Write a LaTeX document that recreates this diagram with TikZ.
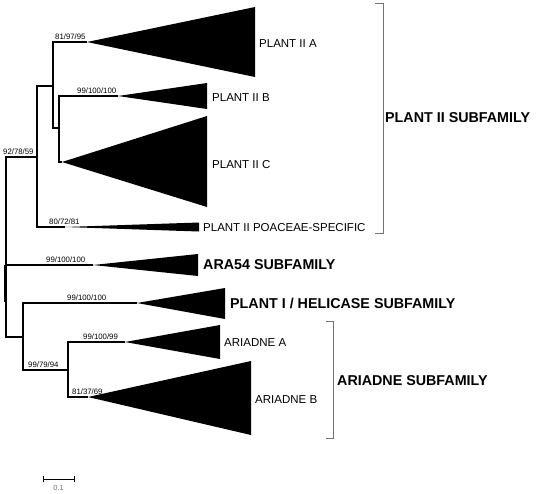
\documentclass[tikz,border=0pt]{standalone}
\usepackage{fontspec}
\setmainfont{Liberation Sans}
\begin{document}
\begin{tikzpicture}[x=1pt,y=-1pt,
  br/.style={line width=1.1pt, line join=miter},
  tri/.style={fill=black},
  boot/.style={anchor=south west, inner sep=0pt, font=\fontsize{7.8}{9}\selectfont},
  clade/.style={anchor=west, inner sep=0pt, font=\fontsize{11.5}{13}\selectfont},
  fam/.style={anchor=west, inner sep=0pt, font=\fontsize{14.3}{16}\selectfont\bfseries},
  brk/.style={line width=0.9pt, black!55},
]
\useasboundingbox (0,0) rectangle (537,493);
% tree coordinates
\coordinate (rootc) at (6,265);
\coordinate (nP2) at (37,157);
\coordinate (nAB) at (53,86);
\coordinate (nBC) at (59,128);
\coordinate (nR2) at (23,337);
\coordinate (nAr) at (68,370);
% clade tips
\coordinate (tA) at (87,42);
\coordinate (tB) at (118,96);
\coordinate (tC) at (62,162);
\coordinate (tPOA) at (65,227);
\coordinate (tARA) at (93,265);
\coordinate (tPI) at (137,303);
\coordinate (tAA) at (125,342);
\coordinate (tAB) at (88,397);
% branches
\draw[br] (nP2) -| (rootc) |- (nR2);
\draw[br] (rootc) -- (tARA);
\draw[line width=2.4pt] (5.6,265) -- (5.6,302);
\draw[br] (nAB) -| (nP2) |- (tPOA);
\draw[br] (tA) -| (nAB) |- (nBC);
\draw[br] (tB) -| (nBC) |- (tC);
\draw[br] (tPI) -| (nR2) |- (nAr);
\draw[br] (tAA) -| (nAr) |- (tAB);
% collapsed clades
\fill[tri] (tA) -- (255,7) -- (255,77) -- cycle;
\fill[tri] (tB) -- (207,83) -- (207,109) -- cycle;
\fill[tri] (tC) -- (207,116) -- (207,207) -- cycle;
\fill[tri] (tPOA) -- (199,222.5) -- (199,231.5) -- cycle;
\fill[tri] (tARA) -- (198,254) -- (198,276) -- cycle;
\fill[tri] (tPI) -- (225,288) -- (225,319) -- cycle;
\fill[tri] (tAA) -- (220,325) -- (220,359) -- cycle;
\fill[tri] (tAB) -- (251,361) -- (251,435) -- cycle;
% bootstrap values
\node[boot] (b1) at (55,40) {81/97/95};
\node[boot] (b2) at (77,94) {99/100/100};
\node[boot] (b3) at (3,155) {92/78/59};
\node[boot] (b4) at (49,225) {80/72/81};
\node[boot] (b5) at (46,263) {99/100/100};
\node[boot] (b6) at (67,301) {99/100/100};
\node[boot] (b7) at (83,340) {99/100/99};
\node[boot] (b8) at (28,368) {99/79/94};
\node[boot] (b9) at (72,395) {81/37/69};
% clade labels
\node[clade] (lA) at (259,44) {PLANT II A};
\node[clade] (lB) at (212,98) {PLANT II B};
\node[clade] (lC) at (212,165) {PLANT II C};
\node[clade] (lPOA) at (203,228) {PLANT II POACEAE-SPECIFIC};
\node[clade] (lAA) at (224,343) {ARIADNE A};
\node[clade] (lAB) at (255,400) {ARIADNE B};
\node[fam] (fP2) at (385,118) {PLANT II SUBFAMILY};
\node[fam] (fARA) at (203,265) {ARA54 SUBFAMILY};
\node[fam] (fPI) at (230,303) {PLANT I / HELICASE SUBFAMILY};
\node[fam] (fAr) at (337,381) {ARIADNE SUBFAMILY};
% brackets
\draw[brk] (375,3) -- (383,3) -- (383,233) -- (375,233);
\draw[brk] (326,321) -- (333,321) -- (333,438) -- (326,438);
% scale bar
\coordinate (s1) at (43,479);
\coordinate (s2) at (74,479);
\draw[line width=1pt] (s1) -- (s2);
\draw[line width=1pt] ([yshift=-3]s1) -- ([yshift=3]s1);
\draw[line width=1pt] ([yshift=-3]s2) -- ([yshift=3]s2);
\node[inner sep=0pt, text=black!55, font=\fontsize{7.5}{9}\selectfont] (sl) at (58.5,488) {0.1};
\end{tikzpicture}
\end{document}
